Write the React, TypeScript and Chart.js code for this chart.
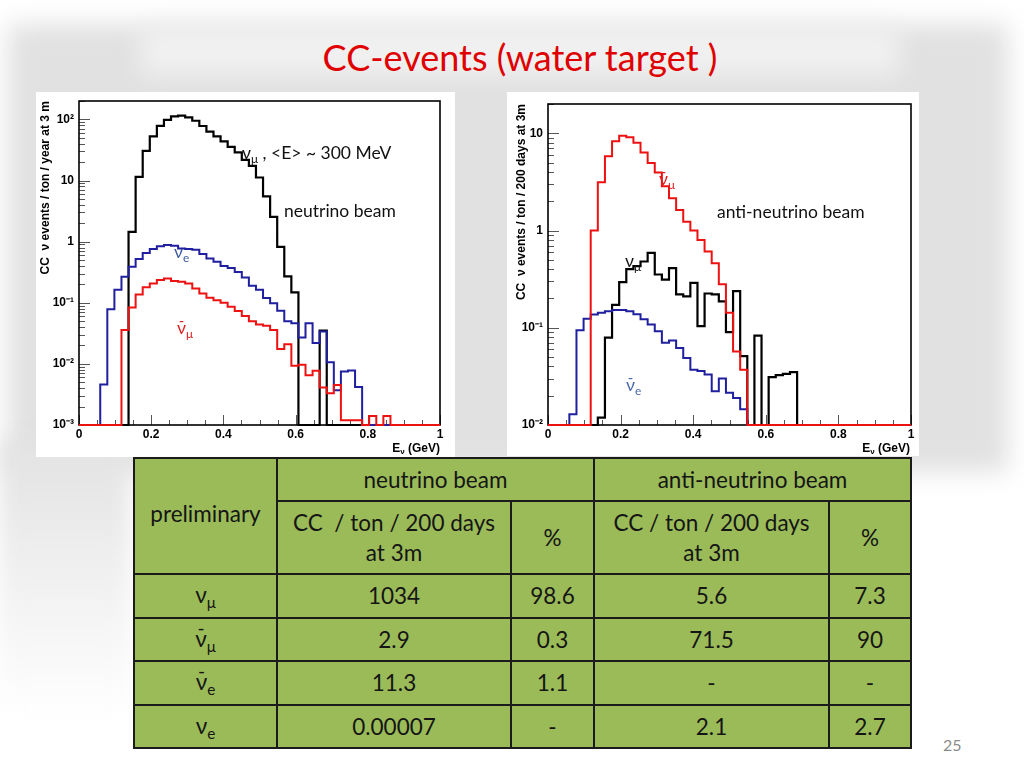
import React, { useEffect, useRef } from 'react';
import { Chart, registerables } from 'chart.js';

Chart.register(...registerables);

// ---------- data ----------
const BIN_COUNT = 51;
const binEdges = Array.from({ length: BIN_COUNT + 1 }, (_, i) => i / BIN_COUNT);

// neutrino beam (left panel), events per bin
const leftNuMu = [
  0, 0, 0, 0, 0, 0, 0, 1.44, 11.5, 30.6, 52.6, 78.5, 98, 112, 115, 108, 95, 78, 63, 52.6,
  43.6, 35.5, 28.8, 21.8, 17.3, 11.2, 5.5, 2.55, 0.82, 0.27, 0.148, 0, 0, 0, 0.035, 0, 0, 0, 0, 0,
  0, 0, 0, 0, 0, 0, 0, 0, 0, 0, 0,
];
const leftNuE = [
  0, 0, 0, 0.0046, 0.078, 0.163, 0.267, 0.39, 0.52, 0.65, 0.76, 0.84, 0.88, 0.86, 0.77, 0.76, 0.74, 0.63, 0.53, 0.47,
  0.4, 0.37, 0.32, 0.26, 0.19, 0.163, 0.12, 0.098, 0.074, 0.05, 0.046, 0.027, 0.046, 0.022, 0.034, 0.0106, 0.0037, 0.0075, 0.0078, 0.0042,
  0, 0, 0, 0, 0, 0, 0, 0, 0, 0, 0,
];
const leftNuMuBar = [
  0, 0, 0, 0, 0, 0, 0.036, 0.084, 0.137, 0.18, 0.207, 0.235, 0.25, 0.226, 0.22, 0.207, 0.171, 0.142, 0.121, 0.11,
  0.1, 0.086, 0.073, 0.061, 0.05, 0.044, 0.042, 0.036, 0.0175, 0.021, 0.0093, 0.0097, 0.0065, 0.0077, 0.0041, 0.0033, 0.0045, 0.0012, 0.0012, 0.0012,
  0, 0.0014, 0, 0.0014, 0, 0, 0, 0, 0, 0, 0,
];

// anti-neutrino beam (right panel)
const rightNuMuBar = [
  0, 0, 0, 0, 0, 0, 1.0, 3.13, 5.8, 8.3, 9.45, 9.1, 8.0, 6.35, 4.95, 3.95, 2.85, 2.15, 1.63, 1.23,
  1.0, 0.8, 0.61, 0.46, 0.28, 0.143, 0.057, 0.037, 0, 0, 0, 0, 0, 0, 0, 0, 0, 0, 0, 0,
  0, 0, 0, 0, 0, 0, 0, 0, 0, 0, 0,
];
const rightNuMu = [
  0, 0, 0, 0, 0, 0, 0, 0.0119, 0.079, 0.172, 0.295, 0.4, 0.43, 0.48, 0.59, 0.353, 0.313, 0.41, 0.22, 0.21,
  0.29, 0.104, 0.225, 0.22, 0.187, 0.09, 0.238, 0.051, 0, 0.083, 0, 0.031, 0.0326, 0.0335, 0.035, 0, 0, 0, 0, 0,
  0, 0, 0, 0, 0, 0, 0, 0, 0, 0, 0,
];
const rightNuEBar = [
  0, 0, 0, 0.0129, 0.094, 0.124, 0.137, 0.143, 0.148, 0.152, 0.152, 0.148, 0.138, 0.122, 0.108, 0.092, 0.07, 0.074, 0.062, 0.049,
  0.037, 0.036, 0.033, 0.0223, 0.03, 0.0215, 0.019, 0.0145, 0, 0, 0, 0, 0, 0, 0, 0, 0, 0, 0, 0,
  0, 0, 0, 0, 0, 0, 0, 0, 0, 0, 0,
];

// axes
const xTickValues = [0, 0.2, 0.4, 0.6, 0.8, 1];
const xTickLabels = ['0', '0.2', '0.4', '0.6', '0.8', '1'];
const xMinorTicks = Array.from({ length: 21 }, (_, i) => i * 0.05);
const leftYTickValues = [1e-3, 1e-2, 1e-1, 1, 10, 100];
const leftYTickLabels = ['10⁻³', '10⁻²', '10⁻¹', '1', '10', '10²'];
const rightYTickValues = [1e-2, 1e-1, 1, 10];
const rightYTickLabels = ['10⁻²', '10⁻¹', '1', '10'];

// table
const tableRowFlavours = [
  { sub: 'μ', bar: false },
  { sub: 'μ', bar: true },
  { sub: 'e', bar: true },
  { sub: 'e', bar: false },
];
const nuBeamCC = ['1034', '2.9', '11.3', '0.00007'];
const nuBeamPct = ['98.6', '0.3', '1.1', '-'];
const antiBeamCC = ['5.6', '71.5', '-', '2.1'];
const antiBeamPct = ['7.3', '90', '-', '2.7'];

// ---------- styling ----------
const SLIDE_FONT = "Lato, 'Open Sans', 'Noto Sans', sans-serif";
const ROOT_FONT = "'Liberation Sans', Arial, Helvetica, sans-serif";
const BLACK = '#000000';
const BLUE = '#1f1f9f';
const RED = '#ee1111';

const findLabel = (values, labels, v) => {
  const i = values.findIndex((t) => Math.abs(t - v) <= Math.abs(t) * 1e-6 + 1e-9);
  return i >= 0 ? labels[i] : '';
};

const logTicks = (decades, max) => {
  const out = [];
  for (const d of decades) {
    for (let m = 1; m <= 9; m++) {
      const v = d * m;
      if (v <= max * 1.0001) out.push(v);
    }
  }
  return out;
};

const toSteps = (values, yMin) =>
  binEdges.map((x, i) => ({ x, y: Math.max(i < values.length ? values[i] : 0, yMin) }));

const framePlugin = {
  id: 'rootFrame',
  beforeDatasetsDraw(chart) {
    const { ctx, chartArea, scales } = chart;
    const { left, right, top, bottom } = chartArea;
    const xs = scales.x;
    const ys = scales.y;
    ctx.save();
    ctx.strokeStyle = '#555';
    ctx.lineWidth = 1;
    ctx.beginPath();
    xs.ticks.forEach((t) => {
      const px = Math.round(xs.getPixelForValue(t.value)) + 0.5;
      const major = t.label !== '' && t.label != null;
      ctx.moveTo(px, bottom);
      ctx.lineTo(px, bottom - (major ? 10 : 5));
    });
    ys.ticks.forEach((t) => {
      const py = Math.round(ys.getPixelForValue(t.value)) + 0.5;
      const major = t.label !== '' && t.label != null;
      ctx.moveTo(left, py);
      ctx.lineTo(left + (major ? 11 : 6), py);
    });
    ctx.stroke();
    ctx.strokeStyle = '#000';
    ctx.lineWidth = 1.6;
    ctx.strokeRect(left, top, right - left, bottom - top);
    ctx.restore();
  },
};

function HistChart({ left, top, width, height, padding, yWidth, xHeight, yMin, yMax, yTickValues, yTickLabels, yTitle, yTitlePad, series }) {
  const ref = useRef(null);
  useEffect(() => {
    const yAll = logTicks(yTickValues, yMax);
    const tickFont = { family: ROOT_FONT, size: 12, weight: 'bold' };
    const chart = new Chart(ref.current, {
      type: 'line',
      data: {
        datasets: series.map((s) => ({
          label: s.name,
          data: toSteps(s.values, yMin),
          borderColor: s.color,
          borderWidth: s.width || 2,
          pointRadius: 0,
          stepped: 'before',
          fill: false,
          clip: false,
          borderJoinStyle: 'miter',
          borderCapStyle: 'butt',
        })),
      },
      options: {
        animation: false,
        responsive: false,
        devicePixelRatio: 1,
        events: [],
        layout: { padding },
        plugins: { legend: { display: false }, tooltip: { enabled: false } },
        scales: {
          x: {
            type: 'linear',
            min: 0,
            max: 1,
            grid: { display: false, drawTicks: false },
            border: { display: false },
            afterBuildTicks: (s) => {
              s.ticks = xMinorTicks.map((v) => ({ value: v }));
            },
            afterFit: (s) => {
              s.height = xHeight;
              s.paddingLeft = 0;
              s.paddingRight = 0;
            },
            ticks: {
              autoSkip: false,
              maxRotation: 0,
              minRotation: 0,
              padding: 2.5,
              color: '#000',
              font: tickFont,
              callback: (v) => findLabel(xTickValues, xTickLabels, v),
            },
          },
          y: {
            type: 'logarithmic',
            min: yMin,
            max: yMax,
            grid: { display: false, drawTicks: false },
            border: { display: false },
            afterBuildTicks: (s) => {
              s.ticks = yAll.map((v) => ({ value: v }));
            },
            afterFit: (s) => {
              s.width = yWidth;
              s.paddingTop = 0;
              s.paddingBottom = 0;
            },
            ticks: {
              autoSkip: false,
              padding: 5,
              color: '#000',
              font: tickFont,
              callback: (v) => findLabel(yTickValues, yTickLabels, v),
            },
            title: {
              display: true,
              text: yTitle,
              align: 'end',
              color: '#000',
              font: { family: ROOT_FONT, size: 12, weight: 'bold' },
              padding: { top: yTitlePad, bottom: 0 },
            },
          },
        },
      },
      plugins: [framePlugin],
    });
    return () => chart.destroy();
  }, []);
  return (
    <canvas
      ref={ref}
      width={width}
      height={height}
      style={{ position: 'absolute', left, top, width, height, background: '#fff' }}
    />
  );
}

function Nu({ sub, bar = false }) {
  return (
    <span style={{ position: 'relative', display: 'inline-block' }}>
      {bar ? (
        <span style={{ position: 'absolute', left: '0.12em', top: '-0.55em', fontSize: '0.85em' }}>-</span>
      ) : null}
      <span>ν</span>
      <span style={{ fontSize: '0.68em', position: 'relative', top: '0.35em' }}>{sub}</span>
    </span>
  );
}

const ann = (left, top, color) => ({
  position: 'absolute',
  left,
  top,
  color,
  fontFamily: SLIDE_FONT,
  fontSize: 17.5,
  lineHeight: '22px',
  whiteSpace: 'nowrap',
});

const axisTitle = (left) => ({
  position: 'absolute',
  left,
  top: 440,
  width: 100,
  textAlign: 'right',
  fontFamily: ROOT_FONT,
  fontWeight: 'bold',
  fontSize: 12,
  lineHeight: '16px',
  color: '#000',
});

export default function App() {
  const cell = {
    border: '2px solid #1b1b1b',
    textAlign: 'center',
    verticalAlign: 'middle',
    padding: 0,
    color: '#151515',
  };
  return (
    <div
      style={{
        position: 'absolute',
        left: 0,
        top: 0,
        width: 1024,
        height: 768,
        overflow: 'hidden',
        background: '#fff',
        fontFamily: SLIDE_FONT,
      }}
    >
      {/* blurred slide background */}
      <div style={{ position: 'absolute', left: 8, top: 24, width: 1000, height: 448, background: '#e1e1e1', filter: 'blur(12px)' }} />
      <div style={{ position: 'absolute', left: 140, top: 26, width: 760, height: 50, background: '#f0f0f0', filter: 'blur(12px)' }} />
      <div style={{ position: 'absolute', left: 0, top: 440, width: 130, height: 280, background: 'linear-gradient(#e2e2e2, #ffffff)', filter: 'blur(10px)' }} />

      {/* title */}
      <div
        style={{
          position: 'absolute',
          left: 0,
          top: 35,
          width: 1040,
          textAlign: 'center',
          color: '#e00000',
          fontSize: 36,
          lineHeight: '44px',
          fontFamily: SLIDE_FONT,
        }}
      >
        CC-events (water target )
      </div>

      <HistChart
        left={36}
        top={92}
        width={419}
        height={365}
        padding={{ left: 0, top: 9, right: 15, bottom: 0 }}
        yWidth={43}
        xHeight={32}
        yMin={1e-3}
        yMax={200}
        yTickValues={leftYTickValues}
        yTickLabels={leftYTickLabels}
        yTitle={'CC  ν events / ton / year at 3 m'}
        yTitlePad={2.8}
        series={[
          { name: 'anti-nu_mu', values: leftNuMuBar, color: RED },
          { name: 'nu_e', values: leftNuE, color: BLUE },
          { name: 'nu_mu', values: leftNuMu, color: BLACK, width: 2.2 },
        ]}
      />
      <HistChart
        left={507}
        top={92}
        width={412}
        height={364}
        padding={{ left: 0, top: 12, right: 8, bottom: 0 }}
        yWidth={41}
        xHeight={31}
        yMin={1e-2}
        yMax={20}
        yTickValues={rightYTickValues}
        yTickLabels={rightYTickLabels}
        yTitle={'CC  ν events / ton / 200 days at 3m'}
        yTitlePad={7.8}
        series={[
          { name: 'anti-nu_mu', values: rightNuMuBar, color: RED },
          { name: 'anti-nu_e', values: rightNuEBar, color: BLUE },
          { name: 'nu_mu', values: rightNuMu, color: BLACK, width: 2.2 },
        ]}
      />

      {/* x axis titles */}
      <div style={axisTitle(340)}>
        E<sub style={{ fontSize: 8, verticalAlign: '-2px', lineHeight: 0 }}>ν</sub> (GeV)
      </div>
      <div style={axisTitle(810)}>
        E<sub style={{ fontSize: 8, verticalAlign: '-2px', lineHeight: 0 }}>ν</sub> (GeV)
      </div>

      {/* left annotations */}
      <div style={ann(242, 142, '#111')}>
        <Nu sub="μ" /> , &lt;E&gt; ~ 300 MeV
      </div>
      <div style={ann(284, 200, '#111')}>neutrino beam</div>
      <div style={ann(174, 241, '#3d5aa0')}>
        <Nu sub="e" />
      </div>
      <div style={ann(177, 317, '#e02020')}>
        <Nu sub="μ" bar />
      </div>

      {/* right annotations */}
      <div style={ann(659, 168, '#e02020')}>
        <Nu sub="μ" bar />
      </div>
      <div style={ann(717, 201, '#111')}>anti-neutrino beam</div>
      <div style={ann(625, 250, '#111')}>
        <Nu sub="μ" />
      </div>
      <div style={ann(626, 374, '#4a68ae')}>
        <Nu sub="e" bar />
      </div>

      {/* table */}
      <table
        style={{
          position: 'absolute',
          left: 133,
          top: 457,
          width: 777,
          borderCollapse: 'collapse',
          tableLayout: 'fixed',
          background: '#9bbb59',
          fontFamily: SLIDE_FONT,
          fontSize: 22.5,
          lineHeight: '30px',
        }}
      >
        <colgroup>
          <col style={{ width: 143 }} />
          <col style={{ width: 234 }} />
          <col style={{ width: 83 }} />
          <col style={{ width: 235 }} />
          <col style={{ width: 82 }} />
        </colgroup>
        <tbody>
          <tr style={{ height: 43 }}>
            <td rowSpan={2} style={{ ...cell, paddingBottom: 4 }}>preliminary</td>
            <td colSpan={2} style={cell}>neutrino beam</td>
            <td colSpan={2} style={cell}>anti-neutrino beam</td>
          </tr>
          <tr style={{ height: 73 }}>
            <td style={cell}>
              {'CC\u00a0 / ton / 200 days'}
              <br />
              at 3m
            </td>
            <td style={cell}>%</td>
            <td style={cell}>
              CC / ton / 200 days
              <br />
              at 3m
            </td>
            <td style={cell}>%</td>
          </tr>
          {tableRowFlavours.map((f, i) => (
            <tr key={i} style={{ height: i % 2 === 0 ? 44 : 43 }}>
              <td style={cell}>
                <Nu sub={f.sub} bar={f.bar} />
              </td>
              <td style={cell}>{nuBeamCC[i]}</td>
              <td style={cell}>{nuBeamPct[i]}</td>
              <td style={cell}>{antiBeamCC[i]}</td>
              <td style={cell}>{antiBeamPct[i]}</td>
            </tr>
          ))}
        </tbody>
      </table>

      {/* page number */}
      <div style={{ position: 'absolute', left: 943, top: 735, fontSize: 16, color: '#8b8b8b', fontFamily: SLIDE_FONT }}>25</div>
    </div>
  );
}
